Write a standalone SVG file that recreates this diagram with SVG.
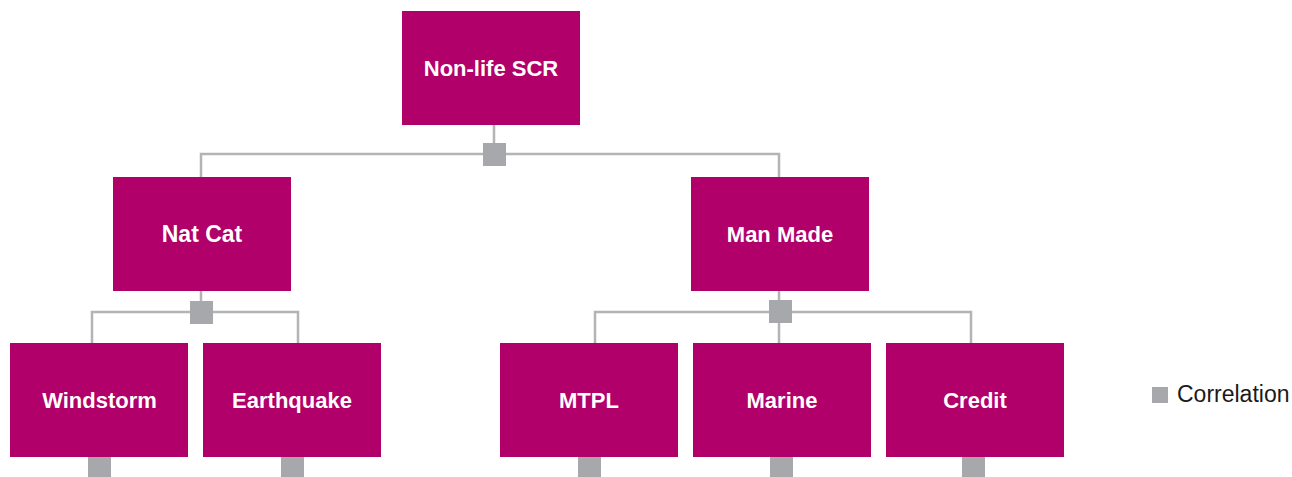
<svg xmlns="http://www.w3.org/2000/svg" width="1292" height="477" viewBox="0 0 1292 477">
  <style>
    .box { fill: #b10069; }
    .lbl { font-family: "Liberation Sans", Arial, sans-serif; font-weight: bold; font-size: 22px; fill: #ffffff; text-anchor: middle; }
    .ln { stroke: #b3b4b6; stroke-width: 2.5; fill: none; }
    .corr { fill: #a7a8ab; }
    .leg { font-family: "Liberation Sans", Arial, sans-serif; font-size: 23px; fill: #1a1a1a; }
  </style>
  <rect width="1292" height="477" fill="#ffffff"/>
  <g id="connectors">
    <path class="ln" d="M494 125 V154 M201 177 V154 H779 V177"/>
    <path class="ln" d="M201 291 V312 M92 343 V312 H298 V343"/>
    <path class="ln" d="M779 291 V343 M595 343 V312 H971 V343"/>
    <rect class="corr" x="483" y="143" width="23" height="23"/>
    <rect class="corr" x="190" y="301" width="23" height="23"/>
    <rect class="corr" x="769" y="300" width="23" height="23"/>
    <rect class="corr" x="88" y="457" width="23" height="23"/>
    <rect class="corr" x="281" y="457" width="23" height="23"/>
    <rect class="corr" x="578" y="457" width="23" height="23"/>
    <rect class="corr" x="770" y="457" width="23" height="23"/>
    <rect class="corr" x="962" y="457" width="23" height="23"/>
  </g>
  <g id="nonlife">
    <rect class="box" x="402" y="11" width="178" height="114"/>
    <text class="lbl" x="491" y="76">Non-life SCR</text>
  </g>
  <g id="natcat">
    <rect class="box" x="113" y="177" width="178" height="114"/>
    <text class="lbl" x="202" y="242" style="font-size:23px">Nat Cat</text>
  </g>
  <g id="manmade">
    <rect class="box" x="691" y="177" width="178" height="114"/>
    <text class="lbl" x="780" y="242">Man Made</text>
  </g>
  <g id="windstorm">
    <rect class="box" x="10" y="343" width="178" height="114"/>
    <text class="lbl" x="99.5" y="408">Windstorm</text>
  </g>
  <g id="earthquake">
    <rect class="box" x="203" y="343" width="178" height="114"/>
    <text class="lbl" x="292" y="408">Earthquake</text>
  </g>
  <g id="mtpl">
    <rect class="box" x="500" y="343" width="178" height="114"/>
    <text class="lbl" x="589" y="408">MTPL</text>
  </g>
  <g id="marine">
    <rect class="box" x="693" y="343" width="178" height="114"/>
    <text class="lbl" x="782" y="408">Marine</text>
  </g>
  <g id="credit">
    <rect class="box" x="886" y="343" width="178" height="114"/>
    <text class="lbl" x="975" y="408">Credit</text>
  </g>
  <g id="legend">
    <rect class="corr" x="1152" y="387" width="16" height="16"/>
    <text class="leg" x="1177" y="402">Correlation</text>
  </g>
</svg>
